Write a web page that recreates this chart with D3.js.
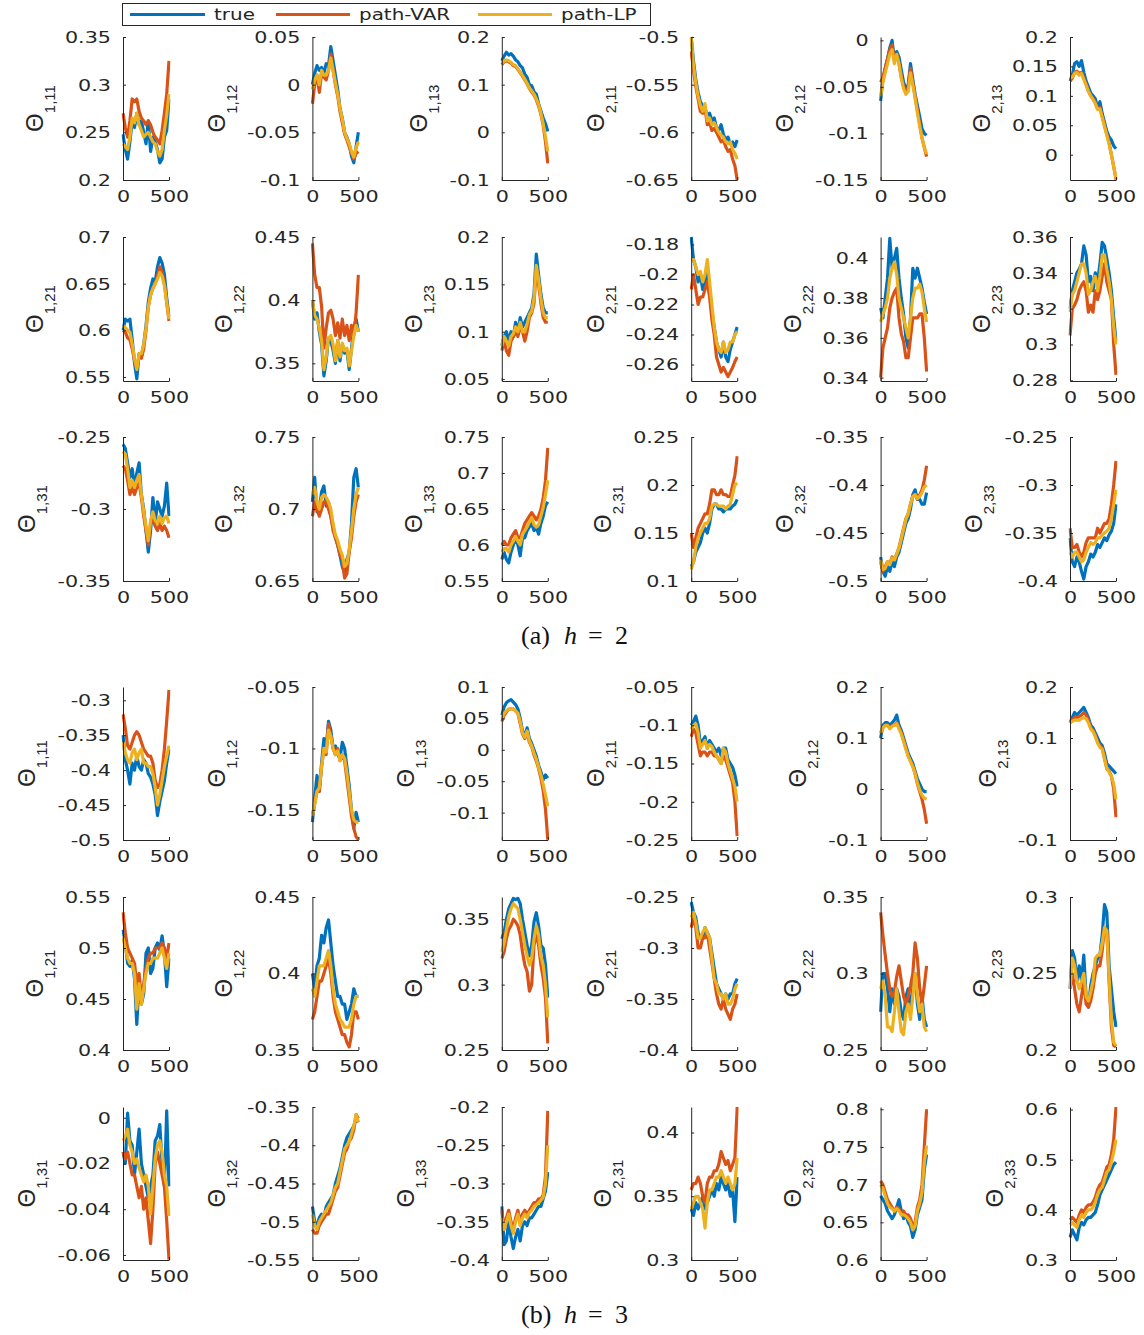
<!DOCTYPE html>
<html>
<head>
<meta charset="utf-8">
<title>theta paths h=2, h=3</title>
<style>
  body { margin: 0; background: #fff; }
</style>
</head>
<body>
<script src="https://cdn.jsdelivr.net/npm/d3@7/dist/d3.min.js"></script>
<script>
// horizon index (shared by every panel)
var xs = [0,25,50,75,100,125,150,175,200,225,250,275,300,325,350,375,400,425,450,475,500];
var seriesNames = ["true", "path-VAR", "path-LP"];
var colors = ["#0072BD", "#D95319", "#EDB120"];

// ---- (a) h = 2 ----
var h2_111_t = [0.248,0.232,0.222,0.240,0.262,0.255,0.270,0.258,0.262,0.250,0.238,0.262,0.230,0.245,0.240,0.232,0.218,0.222,0.245,0.252,0.285];
var h2_111_v = [0.270,0.255,0.245,0.262,0.285,0.282,0.285,0.272,0.265,0.262,0.258,0.262,0.258,0.250,0.245,0.242,0.238,0.252,0.270,0.290,0.325];
var h2_111_l = [0.238,0.235,0.232,0.245,0.265,0.260,0.270,0.258,0.252,0.245,0.248,0.250,0.245,0.240,0.238,0.230,0.225,0.232,0.252,0.268,0.290];
var h2_112_t = [0.000,0.012,0.020,0.015,0.018,0.012,0.022,0.020,0.040,0.025,0.010,-0.005,-0.025,-0.035,-0.050,-0.055,-0.062,-0.075,-0.082,-0.065,-0.050];
var h2_112_v = [-0.020,0.000,0.010,-0.008,0.012,0.008,0.005,0.015,0.032,0.015,0.000,-0.012,-0.028,-0.040,-0.052,-0.058,-0.065,-0.072,-0.078,-0.072,-0.070];
var h2_112_l = [-0.005,0.005,0.010,0.000,0.015,0.010,0.010,0.015,0.028,0.015,0.002,-0.010,-0.025,-0.036,-0.050,-0.056,-0.062,-0.070,-0.076,-0.066,-0.060];
var h2_113_t = [0.150,0.160,0.168,0.162,0.165,0.160,0.152,0.148,0.140,0.135,0.122,0.115,0.100,0.098,0.085,0.080,0.060,0.045,0.030,0.018,0.002];
var h2_113_v = [0.142,0.148,0.150,0.148,0.145,0.140,0.138,0.132,0.125,0.118,0.110,0.102,0.092,0.085,0.078,0.068,0.055,0.038,0.015,-0.020,-0.065];
var h2_113_l = [0.145,0.150,0.152,0.150,0.147,0.142,0.140,0.133,0.126,0.119,0.111,0.103,0.093,0.087,0.080,0.070,0.058,0.040,0.018,-0.010,-0.040];
var h2_211_t = [-0.500,-0.525,-0.545,-0.558,-0.568,-0.572,-0.575,-0.582,-0.580,-0.588,-0.585,-0.595,-0.598,-0.592,-0.602,-0.608,-0.605,-0.612,-0.610,-0.615,-0.608];
var h2_211_v = [-0.515,-0.535,-0.552,-0.565,-0.578,-0.580,-0.575,-0.592,-0.590,-0.598,-0.596,-0.600,-0.605,-0.610,-0.608,-0.615,-0.620,-0.618,-0.628,-0.635,-0.650];
var h2_211_l = [-0.500,-0.530,-0.548,-0.562,-0.572,-0.578,-0.570,-0.588,-0.585,-0.592,-0.590,-0.595,-0.600,-0.603,-0.605,-0.610,-0.612,-0.610,-0.618,-0.622,-0.628];
var h2_212_t = [-0.065,-0.042,-0.030,-0.020,-0.008,0.000,-0.022,-0.012,-0.018,-0.032,-0.045,-0.052,-0.048,-0.025,-0.042,-0.058,-0.070,-0.082,-0.095,-0.100,-0.102];
var h2_212_v = [-0.045,-0.040,-0.030,-0.020,-0.010,-0.005,-0.020,-0.015,-0.025,-0.040,-0.050,-0.055,-0.050,-0.030,-0.045,-0.060,-0.075,-0.090,-0.105,-0.115,-0.125];
var h2_212_l = [-0.060,-0.045,-0.035,-0.025,-0.015,-0.010,-0.025,-0.015,-0.025,-0.040,-0.052,-0.058,-0.055,-0.035,-0.048,-0.062,-0.078,-0.092,-0.105,-0.115,-0.122];
var h2_213_t = [0.125,0.135,0.155,0.158,0.150,0.160,0.140,0.125,0.115,0.105,0.100,0.095,0.080,0.090,0.070,0.055,0.040,0.030,0.025,0.015,0.010];
var h2_213_v = [0.125,0.130,0.140,0.142,0.138,0.140,0.130,0.120,0.108,0.100,0.095,0.088,0.078,0.080,0.065,0.050,0.035,0.020,0.000,-0.020,-0.042];
var h2_213_l = [0.130,0.132,0.138,0.140,0.135,0.138,0.128,0.118,0.108,0.100,0.094,0.087,0.077,0.078,0.063,0.048,0.033,0.018,0.000,-0.020,-0.040];

var h2_121_t = [0.600,0.612,0.610,0.612,0.590,0.565,0.548,0.575,0.572,0.585,0.605,0.630,0.645,0.655,0.652,0.668,0.678,0.672,0.660,0.635,0.615];
var h2_121_v = [0.600,0.598,0.592,0.590,0.580,0.568,0.560,0.572,0.570,0.580,0.600,0.625,0.638,0.645,0.650,0.658,0.668,0.662,0.650,0.630,0.610];
var h2_121_l = [0.605,0.603,0.600,0.598,0.585,0.570,0.558,0.575,0.575,0.585,0.602,0.625,0.638,0.645,0.650,0.655,0.662,0.658,0.648,0.630,0.612];
var h2_122_t = [0.400,0.385,0.390,0.375,0.365,0.340,0.352,0.370,0.368,0.360,0.350,0.368,0.352,0.365,0.358,0.360,0.345,0.362,0.378,0.385,0.375];
var h2_122_v = [0.445,0.420,0.410,0.410,0.395,0.362,0.378,0.390,0.392,0.385,0.372,0.382,0.370,0.385,0.372,0.380,0.368,0.380,0.372,0.390,0.420];
var h2_122_l = [0.400,0.388,0.385,0.378,0.368,0.345,0.355,0.370,0.372,0.365,0.352,0.368,0.355,0.366,0.360,0.362,0.348,0.360,0.372,0.380,0.375];
var h2_123_t = [0.085,0.095,0.100,0.090,0.100,0.095,0.110,0.100,0.115,0.105,0.110,0.115,0.120,0.125,0.140,0.182,0.160,0.140,0.125,0.120,0.120];
var h2_123_v = [0.080,0.090,0.080,0.075,0.090,0.095,0.100,0.095,0.105,0.100,0.090,0.100,0.115,0.120,0.130,0.165,0.150,0.130,0.115,0.110,0.110];
var h2_123_l = [0.085,0.095,0.090,0.085,0.095,0.098,0.105,0.100,0.110,0.100,0.100,0.108,0.118,0.122,0.135,0.170,0.155,0.135,0.120,0.115,0.115];
var h2_221_t = [-0.175,-0.190,-0.195,-0.205,-0.200,-0.210,-0.205,-0.195,-0.210,-0.225,-0.235,-0.245,-0.250,-0.255,-0.245,-0.255,-0.258,-0.250,-0.245,-0.240,-0.235];
var h2_221_v = [-0.210,-0.200,-0.210,-0.220,-0.215,-0.215,-0.210,-0.205,-0.215,-0.230,-0.240,-0.255,-0.260,-0.265,-0.262,-0.265,-0.268,-0.265,-0.262,-0.258,-0.255];
var h2_221_l = [-0.190,-0.190,-0.195,-0.200,-0.198,-0.205,-0.200,-0.190,-0.205,-0.220,-0.235,-0.245,-0.250,-0.252,-0.245,-0.252,-0.250,-0.245,-0.245,-0.240,-0.238];
var h2_222_t = [0.375,0.370,0.380,0.390,0.410,0.395,0.400,0.405,0.390,0.380,0.372,0.360,0.355,0.370,0.395,0.390,0.395,0.390,0.385,0.378,0.372];
var h2_222_v = [0.340,0.355,0.360,0.365,0.375,0.380,0.383,0.385,0.370,0.362,0.358,0.350,0.350,0.360,0.370,0.370,0.370,0.372,0.372,0.360,0.343];
var h2_222_l = [0.368,0.372,0.375,0.380,0.390,0.395,0.398,0.392,0.380,0.375,0.370,0.365,0.360,0.370,0.380,0.385,0.385,0.387,0.383,0.375,0.368];
var h2_223_t = [0.320,0.330,0.335,0.340,0.342,0.345,0.355,0.350,0.335,0.338,0.330,0.340,0.335,0.345,0.357,0.355,0.348,0.340,0.330,0.315,0.302];
var h2_223_v = [0.305,0.320,0.322,0.325,0.330,0.333,0.335,0.330,0.318,0.322,0.318,0.330,0.325,0.330,0.338,0.345,0.335,0.330,0.325,0.300,0.283];
var h2_223_l = [0.318,0.328,0.330,0.335,0.340,0.345,0.345,0.340,0.328,0.330,0.335,0.338,0.330,0.338,0.350,0.350,0.342,0.335,0.325,0.310,0.300];

var h2_131_t = [-0.255,-0.258,-0.268,-0.278,-0.272,-0.285,-0.275,-0.268,-0.290,-0.300,-0.315,-0.330,-0.315,-0.292,-0.310,-0.295,-0.300,-0.305,-0.298,-0.282,-0.305];
var h2_131_v = [-0.270,-0.272,-0.280,-0.290,-0.285,-0.290,-0.285,-0.282,-0.292,-0.305,-0.315,-0.325,-0.310,-0.308,-0.312,-0.315,-0.310,-0.315,-0.312,-0.315,-0.320];
var h2_131_l = [-0.260,-0.262,-0.272,-0.285,-0.280,-0.285,-0.280,-0.276,-0.290,-0.302,-0.312,-0.322,-0.308,-0.302,-0.308,-0.310,-0.305,-0.310,-0.306,-0.305,-0.310];
var h2_132_t = [0.705,0.722,0.698,0.700,0.712,0.716,0.702,0.705,0.695,0.688,0.680,0.675,0.668,0.660,0.655,0.665,0.670,0.690,0.722,0.728,0.715];
var h2_132_v = [0.695,0.705,0.700,0.695,0.700,0.705,0.705,0.700,0.695,0.685,0.680,0.675,0.668,0.665,0.652,0.655,0.670,0.680,0.695,0.705,0.710];
var h2_132_l = [0.710,0.715,0.705,0.700,0.708,0.710,0.708,0.705,0.700,0.690,0.682,0.678,0.672,0.668,0.660,0.662,0.672,0.685,0.700,0.710,0.715];
var h2_133_t = [0.580,0.590,0.580,0.575,0.590,0.600,0.610,0.600,0.585,0.610,0.610,0.620,0.625,0.630,0.620,0.625,0.615,0.630,0.640,0.655,0.660];
var h2_133_v = [0.600,0.605,0.600,0.600,0.610,0.615,0.620,0.610,0.610,0.620,0.630,0.635,0.640,0.645,0.640,0.635,0.640,0.650,0.665,0.690,0.735];
var h2_133_l = [0.590,0.595,0.595,0.590,0.600,0.605,0.612,0.605,0.600,0.615,0.620,0.625,0.632,0.638,0.628,0.625,0.628,0.640,0.652,0.670,0.690];
var h2_231_t = [0.115,0.120,0.130,0.135,0.140,0.150,0.155,0.150,0.160,0.175,0.180,0.180,0.175,0.175,0.172,0.175,0.175,0.175,0.178,0.180,0.185];
var h2_231_v = [0.150,0.135,0.145,0.155,0.160,0.165,0.170,0.170,0.180,0.195,0.195,0.190,0.190,0.195,0.190,0.190,0.188,0.188,0.200,0.210,0.230];
var h2_231_l = [0.112,0.120,0.135,0.145,0.150,0.155,0.160,0.160,0.165,0.178,0.180,0.180,0.178,0.178,0.178,0.175,0.178,0.180,0.190,0.200,0.202];
var h2_232_t = [-0.475,-0.490,-0.495,-0.485,-0.490,-0.480,-0.485,-0.475,-0.470,-0.460,-0.450,-0.440,-0.435,-0.425,-0.410,-0.405,-0.415,-0.415,-0.420,-0.420,-0.408];
var h2_232_v = [-0.480,-0.490,-0.485,-0.480,-0.482,-0.475,-0.478,-0.472,-0.465,-0.455,-0.445,-0.435,-0.430,-0.420,-0.412,-0.410,-0.415,-0.410,-0.405,-0.395,-0.380];
var h2_232_l = [-0.478,-0.488,-0.487,-0.480,-0.483,-0.476,-0.478,-0.472,-0.466,-0.456,-0.446,-0.436,-0.430,-0.420,-0.412,-0.410,-0.414,-0.412,-0.408,-0.402,-0.400];
var h2_233_t = [-0.355,-0.380,-0.385,-0.375,-0.380,-0.390,-0.398,-0.385,-0.380,-0.372,-0.375,-0.370,-0.362,-0.365,-0.360,-0.355,-0.358,-0.352,-0.348,-0.340,-0.320];
var h2_233_v = [-0.345,-0.365,-0.365,-0.362,-0.370,-0.375,-0.370,-0.360,-0.355,-0.355,-0.355,-0.355,-0.345,-0.350,-0.345,-0.340,-0.340,-0.335,-0.320,-0.300,-0.275];
var h2_233_l = [-0.370,-0.375,-0.370,-0.370,-0.375,-0.380,-0.378,-0.370,-0.365,-0.360,-0.362,-0.360,-0.355,-0.355,-0.352,-0.350,-0.348,-0.345,-0.335,-0.320,-0.305];

// ---- (b) h = 3 ----
var h3_111_t = [-0.350,-0.385,-0.400,-0.420,-0.390,-0.400,-0.380,-0.395,-0.400,-0.385,-0.390,-0.405,-0.410,-0.420,-0.435,-0.465,-0.445,-0.430,-0.415,-0.390,-0.370];
var h3_111_v = [-0.320,-0.340,-0.365,-0.370,-0.360,-0.350,-0.345,-0.350,-0.360,-0.370,-0.375,-0.380,-0.380,-0.390,-0.415,-0.425,-0.420,-0.400,-0.370,-0.330,-0.285];
var h3_111_l = [-0.360,-0.375,-0.385,-0.390,-0.375,-0.370,-0.385,-0.375,-0.370,-0.390,-0.390,-0.395,-0.395,-0.405,-0.425,-0.450,-0.435,-0.415,-0.395,-0.380,-0.365];
var h3_112_t = [-0.160,-0.140,-0.122,-0.135,-0.112,-0.092,-0.100,-0.078,-0.085,-0.100,-0.098,-0.105,-0.108,-0.095,-0.100,-0.115,-0.130,-0.150,-0.165,-0.152,-0.160];
var h3_112_v = [-0.155,-0.145,-0.135,-0.135,-0.115,-0.100,-0.105,-0.080,-0.090,-0.100,-0.105,-0.100,-0.110,-0.105,-0.110,-0.125,-0.140,-0.155,-0.165,-0.172,-0.174];
var h3_112_l = [-0.155,-0.145,-0.135,-0.132,-0.115,-0.100,-0.103,-0.085,-0.090,-0.100,-0.105,-0.102,-0.110,-0.105,-0.108,-0.120,-0.135,-0.150,-0.158,-0.160,-0.160];
var h3_113_t = [0.055,0.068,0.075,0.078,0.080,0.076,0.072,0.065,0.050,0.030,0.022,0.035,0.018,0.010,0.000,-0.010,-0.025,-0.035,-0.048,-0.040,-0.045];
var h3_113_v = [0.045,0.055,0.060,0.065,0.065,0.065,0.062,0.058,0.042,0.025,0.018,0.028,0.012,0.005,-0.008,-0.018,-0.030,-0.045,-0.065,-0.095,-0.143];
var h3_113_l = [0.050,0.058,0.062,0.065,0.066,0.065,0.062,0.058,0.045,0.027,0.020,0.030,0.014,0.006,-0.005,-0.015,-0.028,-0.040,-0.055,-0.072,-0.090];
var h3_211_t = [-0.100,-0.095,-0.088,-0.100,-0.125,-0.120,-0.115,-0.130,-0.120,-0.125,-0.130,-0.135,-0.130,-0.140,-0.130,-0.130,-0.145,-0.150,-0.155,-0.165,-0.180];
var h3_211_v = [-0.115,-0.105,-0.110,-0.125,-0.140,-0.135,-0.135,-0.140,-0.135,-0.135,-0.140,-0.140,-0.145,-0.150,-0.140,-0.145,-0.155,-0.165,-0.175,-0.200,-0.245];
var h3_211_l = [-0.105,-0.100,-0.098,-0.110,-0.130,-0.125,-0.120,-0.130,-0.125,-0.128,-0.135,-0.140,-0.145,-0.150,-0.130,-0.135,-0.150,-0.160,-0.170,-0.180,-0.200];
var h3_212_t = [0.100,0.125,0.130,0.130,0.125,0.130,0.135,0.145,0.125,0.115,0.100,0.085,0.070,0.060,0.050,0.035,0.020,0.010,0.000,-0.005,-0.005];
var h3_212_v = [0.110,0.120,0.125,0.125,0.120,0.125,0.125,0.130,0.120,0.110,0.095,0.080,0.065,0.055,0.045,0.030,0.010,-0.005,-0.020,-0.040,-0.068];
var h3_212_l = [0.110,0.120,0.125,0.125,0.118,0.123,0.125,0.128,0.118,0.108,0.093,0.078,0.064,0.054,0.044,0.030,0.012,-0.002,-0.012,-0.018,-0.020];
var h3_213_t = [0.130,0.140,0.150,0.145,0.150,0.155,0.160,0.150,0.140,0.125,0.120,0.110,0.100,0.090,0.085,0.070,0.050,0.045,0.040,0.035,0.030];
var h3_213_v = [0.130,0.135,0.140,0.140,0.142,0.145,0.150,0.145,0.135,0.120,0.115,0.105,0.092,0.085,0.080,0.060,0.040,0.035,0.025,0.000,-0.055];
var h3_213_l = [0.130,0.133,0.135,0.135,0.135,0.138,0.140,0.138,0.130,0.118,0.113,0.103,0.090,0.082,0.078,0.060,0.040,0.033,0.025,0.010,-0.020];

var h3_121_t = [0.518,0.505,0.485,0.482,0.488,0.470,0.425,0.468,0.445,0.455,0.495,0.500,0.475,0.480,0.500,0.505,0.498,0.512,0.495,0.462,0.490];
var h3_121_v = [0.535,0.515,0.500,0.495,0.490,0.485,0.465,0.475,0.450,0.465,0.480,0.490,0.495,0.495,0.500,0.500,0.500,0.505,0.500,0.490,0.505];
var h3_121_l = [0.510,0.500,0.490,0.485,0.485,0.475,0.440,0.465,0.445,0.460,0.475,0.485,0.485,0.490,0.490,0.490,0.495,0.500,0.490,0.480,0.495];
var h3_122_t = [0.400,0.390,0.405,0.410,0.425,0.420,0.430,0.435,0.420,0.405,0.395,0.385,0.385,0.380,0.380,0.370,0.375,0.380,0.390,0.385,0.385];
var h3_122_v = [0.370,0.375,0.385,0.395,0.395,0.400,0.405,0.410,0.400,0.385,0.375,0.370,0.365,0.360,0.360,0.355,0.352,0.360,0.375,0.375,0.370];
var h3_122_l = [0.390,0.385,0.395,0.405,0.405,0.405,0.410,0.415,0.405,0.390,0.380,0.375,0.370,0.368,0.365,0.365,0.365,0.370,0.380,0.385,0.385];
var h3_123_t = [0.335,0.340,0.350,0.358,0.362,0.366,0.365,0.366,0.362,0.350,0.340,0.330,0.322,0.330,0.348,0.355,0.345,0.330,0.328,0.315,0.290];
var h3_123_v = [0.320,0.325,0.335,0.342,0.345,0.350,0.348,0.345,0.338,0.325,0.315,0.310,0.295,0.300,0.330,0.340,0.330,0.315,0.305,0.290,0.255];
var h3_123_l = [0.325,0.332,0.342,0.352,0.358,0.362,0.360,0.358,0.350,0.340,0.330,0.322,0.315,0.320,0.335,0.345,0.338,0.322,0.315,0.300,0.275];
var h3_221_t = [-0.255,-0.265,-0.270,-0.285,-0.290,-0.290,-0.280,-0.285,-0.290,-0.305,-0.320,-0.335,-0.340,-0.345,-0.350,-0.345,-0.350,-0.345,-0.345,-0.335,-0.330];
var h3_221_v = [-0.280,-0.270,-0.280,-0.300,-0.300,-0.290,-0.290,-0.285,-0.300,-0.315,-0.330,-0.345,-0.355,-0.360,-0.350,-0.360,-0.365,-0.370,-0.360,-0.355,-0.345];
var h3_221_l = [-0.270,-0.265,-0.275,-0.290,-0.290,-0.285,-0.280,-0.285,-0.290,-0.310,-0.330,-0.335,-0.345,-0.345,-0.350,-0.345,-0.355,-0.355,-0.350,-0.340,-0.335];
var h3_222_t = [0.275,0.300,0.300,0.290,0.275,0.290,0.280,0.290,0.285,0.275,0.270,0.285,0.290,0.275,0.290,0.300,0.280,0.270,0.285,0.270,0.265];
var h3_222_v = [0.340,0.325,0.312,0.300,0.290,0.285,0.288,0.298,0.305,0.295,0.285,0.280,0.285,0.292,0.300,0.320,0.310,0.290,0.280,0.292,0.305];
var h3_222_l = [0.290,0.295,0.285,0.265,0.265,0.262,0.275,0.290,0.275,0.262,0.260,0.275,0.280,0.270,0.285,0.300,0.285,0.275,0.280,0.265,0.262];
var h3_223_t = [0.240,0.265,0.260,0.245,0.255,0.245,0.262,0.235,0.228,0.242,0.250,0.255,0.260,0.262,0.275,0.295,0.290,0.255,0.240,0.225,0.215];
var h3_223_v = [0.240,0.250,0.240,0.230,0.225,0.235,0.245,0.230,0.228,0.232,0.240,0.250,0.255,0.255,0.265,0.280,0.278,0.245,0.215,0.203,0.202];
var h3_223_l = [0.240,0.260,0.255,0.245,0.240,0.245,0.250,0.235,0.232,0.238,0.245,0.260,0.262,0.262,0.270,0.280,0.278,0.248,0.220,0.205,0.203];

var h3_131_t = [-0.015,-0.020,0.002,-0.010,-0.012,-0.025,-0.015,-0.005,-0.020,-0.025,-0.030,-0.035,-0.030,-0.025,-0.010,-0.008,-0.003,-0.020,-0.030,0.003,-0.030];
var h3_131_v = [-0.015,-0.018,-0.015,-0.020,-0.025,-0.025,-0.030,-0.035,-0.030,-0.040,-0.035,-0.045,-0.055,-0.040,-0.020,-0.015,-0.020,-0.025,-0.030,-0.045,-0.062];
var h3_131_l = [-0.010,-0.008,-0.005,-0.012,-0.015,-0.020,-0.018,-0.022,-0.025,-0.028,-0.025,-0.030,-0.042,-0.030,-0.018,-0.012,-0.010,-0.015,-0.025,-0.030,-0.043];
var h3_132_t = [-0.480,-0.500,-0.505,-0.495,-0.490,-0.495,-0.480,-0.475,-0.470,-0.465,-0.450,-0.440,-0.430,-0.415,-0.400,-0.390,-0.385,-0.380,-0.375,-0.365,-0.370];
var h3_132_v = [-0.510,-0.515,-0.515,-0.505,-0.500,-0.495,-0.490,-0.490,-0.480,-0.470,-0.460,-0.455,-0.440,-0.425,-0.410,-0.405,-0.395,-0.390,-0.380,-0.360,-0.365];
var h3_132_l = [-0.490,-0.505,-0.510,-0.500,-0.495,-0.490,-0.485,-0.480,-0.475,-0.465,-0.455,-0.450,-0.435,-0.420,-0.405,-0.400,-0.395,-0.385,-0.375,-0.360,-0.370];
var h3_133_t = [-0.330,-0.380,-0.375,-0.350,-0.370,-0.385,-0.370,-0.360,-0.375,-0.355,-0.350,-0.355,-0.345,-0.345,-0.340,-0.335,-0.330,-0.330,-0.320,-0.310,-0.285];
var h3_133_v = [-0.335,-0.360,-0.345,-0.335,-0.350,-0.360,-0.345,-0.335,-0.350,-0.340,-0.335,-0.340,-0.335,-0.330,-0.325,-0.325,-0.320,-0.320,-0.315,-0.290,-0.205];
var h3_133_l = [-0.345,-0.360,-0.350,-0.340,-0.355,-0.365,-0.350,-0.340,-0.355,-0.345,-0.340,-0.345,-0.338,-0.335,-0.330,-0.328,-0.325,-0.322,-0.318,-0.300,-0.250];
var h3_231_t = [0.340,0.335,0.345,0.340,0.345,0.350,0.340,0.345,0.350,0.355,0.350,0.360,0.355,0.365,0.360,0.355,0.360,0.350,0.355,0.330,0.365];
var h3_231_v = [0.355,0.360,0.360,0.365,0.360,0.350,0.345,0.360,0.365,0.365,0.370,0.370,0.375,0.385,0.380,0.375,0.378,0.370,0.375,0.380,0.420];
var h3_231_l = [0.340,0.345,0.350,0.350,0.345,0.340,0.325,0.345,0.355,0.355,0.360,0.365,0.365,0.370,0.365,0.360,0.365,0.360,0.355,0.360,0.380];
var h3_232_t = [0.685,0.680,0.675,0.665,0.660,0.655,0.660,0.670,0.680,0.665,0.655,0.660,0.650,0.645,0.630,0.640,0.660,0.670,0.680,0.720,0.740];
var h3_232_v = [0.705,0.700,0.690,0.680,0.675,0.670,0.665,0.670,0.668,0.660,0.665,0.660,0.660,0.655,0.645,0.650,0.670,0.680,0.700,0.750,0.800];
var h3_232_l = [0.700,0.695,0.685,0.675,0.670,0.668,0.665,0.668,0.665,0.660,0.660,0.658,0.655,0.650,0.640,0.645,0.665,0.675,0.690,0.730,0.752];
var h3_233_t = [0.345,0.360,0.350,0.340,0.365,0.375,0.370,0.380,0.385,0.385,0.390,0.395,0.410,0.430,0.440,0.450,0.460,0.470,0.480,0.490,0.495];
var h3_233_v = [0.380,0.385,0.380,0.375,0.390,0.400,0.395,0.405,0.410,0.410,0.415,0.425,0.440,0.450,0.455,0.470,0.485,0.490,0.510,0.540,0.605];
var h3_233_l = [0.370,0.375,0.370,0.365,0.380,0.390,0.385,0.395,0.400,0.400,0.405,0.415,0.430,0.440,0.445,0.460,0.475,0.480,0.495,0.515,0.540];

// panels in grid order (6 per row, 3 rows per horizon)
var panelSeries = [
  [h2_111_t,h2_111_v,h2_111_l],[h2_112_t,h2_112_v,h2_112_l],[h2_113_t,h2_113_v,h2_113_l],
  [h2_211_t,h2_211_v,h2_211_l],[h2_212_t,h2_212_v,h2_212_l],[h2_213_t,h2_213_v,h2_213_l],
  [h2_121_t,h2_121_v,h2_121_l],[h2_122_t,h2_122_v,h2_122_l],[h2_123_t,h2_123_v,h2_123_l],
  [h2_221_t,h2_221_v,h2_221_l],[h2_222_t,h2_222_v,h2_222_l],[h2_223_t,h2_223_v,h2_223_l],
  [h2_131_t,h2_131_v,h2_131_l],[h2_132_t,h2_132_v,h2_132_l],[h2_133_t,h2_133_v,h2_133_l],
  [h2_231_t,h2_231_v,h2_231_l],[h2_232_t,h2_232_v,h2_232_l],[h2_233_t,h2_233_v,h2_233_l],
  [h3_111_t,h3_111_v,h3_111_l],[h3_112_t,h3_112_v,h3_112_l],[h3_113_t,h3_113_v,h3_113_l],
  [h3_211_t,h3_211_v,h3_211_l],[h3_212_t,h3_212_v,h3_212_l],[h3_213_t,h3_213_v,h3_213_l],
  [h3_121_t,h3_121_v,h3_121_l],[h3_122_t,h3_122_v,h3_122_l],[h3_123_t,h3_123_v,h3_123_l],
  [h3_221_t,h3_221_v,h3_221_l],[h3_222_t,h3_222_v,h3_222_l],[h3_223_t,h3_223_v,h3_223_l],
  [h3_131_t,h3_131_v,h3_131_l],[h3_132_t,h3_132_v,h3_132_l],[h3_133_t,h3_133_v,h3_133_l],
  [h3_231_t,h3_231_v,h3_231_l],[h3_232_t,h3_232_v,h3_232_l],[h3_233_t,h3_233_v,h3_233_l]
];

var yLimits = [
  [0.2,0.35],[-0.1,0.05],[-0.1,0.2],[-0.65,-0.5],[-0.15,0.0036],[-0.043,0.2],
  [0.5457,0.7],[0.336,0.45],[0.048,0.2],[-0.271,-0.175],[0.3383,0.4107],[0.2796,0.36],
  [-0.35,-0.25],[0.65,0.75],[0.55,0.75],[0.1,0.25],[-0.5,-0.35],[-0.4,-0.25],
  [-0.5,-0.281],[-0.1745,-0.05],[-0.1436,0.1],[-0.25,-0.05],[-0.1,0.2],[-0.1,0.2],
  [0.4,0.55],[0.35,0.45],[0.25,0.367],[-0.4,-0.25],[0.25,0.35],[0.2,0.3],
  [-0.0622,0.0047],[-0.55,-0.35],[-0.4,-0.2],[0.3,0.42],[0.6,0.803],[0.3,0.605]
];

var yTickVals = [
  [0.2,0.25,0.3,0.35],[-0.1,-0.05,0,0.05],[-0.1,0,0.1,0.2],[-0.65,-0.6,-0.55,-0.5],[-0.15,-0.1,-0.05,0],[0,0.05,0.1,0.15,0.2],
  [0.55,0.6,0.65,0.7],[0.35,0.4,0.45],[0.05,0.1,0.15,0.2],[-0.26,-0.24,-0.22,-0.2,-0.18],[0.34,0.36,0.38,0.4],[0.28,0.3,0.32,0.34,0.36],
  [-0.35,-0.3,-0.25],[0.65,0.7,0.75],[0.55,0.6,0.65,0.7,0.75],[0.1,0.15,0.2,0.25],[-0.5,-0.45,-0.4,-0.35],[-0.4,-0.35,-0.3,-0.25],
  [-0.5,-0.45,-0.4,-0.35,-0.3],[-0.15,-0.1,-0.05],[-0.1,-0.05,0,0.05,0.1],[-0.25,-0.2,-0.15,-0.1,-0.05],[-0.1,0,0.1,0.2],[-0.1,0,0.1,0.2],
  [0.4,0.45,0.5,0.55],[0.35,0.4,0.45],[0.25,0.3,0.35],[-0.4,-0.35,-0.3,-0.25],[0.25,0.3,0.35],[0.2,0.25,0.3],
  [-0.06,-0.04,-0.02,0],[-0.55,-0.5,-0.45,-0.4,-0.35],[-0.4,-0.35,-0.3,-0.25,-0.2],[0.3,0.35,0.4],[0.6,0.65,0.7,0.75,0.8],[0.3,0.4,0.5,0.6]
];
var xTickVals = [0, 500];
var captions = [["(a)", "h", "2"], ["(b)", "h", "3"]];

// layout
var W = 1144, H = 1335;
var colX = [123, 312.4, 501.8, 691.2, 880.6, 1070];
var plotW = 46;
var rowTop = [37, 237, 437, 687, 897, 1107];
var rowBottom = [180, 381, 581, 840, 1050, 1260];
var axisColor = "#262626";
var tickFont = "'DejaVu Sans', sans-serif";
var tickFontSize = 15;
var stretch = 1.38;   // the figure's tick font is very wide
var lineW = 3.2;

var svg = d3.select("body").append("svg")
  .attr("width", W).attr("height", H)
  .style("background", "#fff");

function fmt(d) { return String(+d.toFixed(3)); }

function subscript(i) {
  var r = Math.floor(i / 6) % 3 + 1, c = i % 6;
  var lag = c < 3 ? 1 : 2;
  return lag + "," + r + (c % 3 + 1);
}

panelSeries.forEach(function(series, i) {
  var r = Math.floor(i / 6), c = i % 6;
  var ph = rowBottom[r] - rowTop[r];
  var g = svg.append("g").attr("transform", "translate(" + colX[c] + "," + rowTop[r] + ")");

  var x = d3.scaleLinear().domain([0, 500]).range([0, plotW]);
  var y = d3.scaleLinear().domain(yLimits[i]).range([ph, 0]);

  g.append("clipPath").attr("id", "clip" + i)
    .append("rect").attr("x", -1.5).attr("y", -1.5).attr("width", plotW + 3).attr("height", ph + 3);

  var line = d3.line()
    .x(function(d, j) { return x(xs[j]); })
    .y(function(d) { return y(d); });

  series.forEach(function(s, k) {
    g.append("path")
      .attr("d", line(s))
      .attr("clip-path", "url(#clip" + i + ")")
      .attr("fill", "none")
      .attr("stroke", colors[k])
      .attr("stroke-width", lineW)
      .attr("stroke-linejoin", "round");
  });

  var ya = g.append("g")
    .call(d3.axisLeft(y).tickValues(yTickVals[i]).tickFormat(fmt).tickSizeInner(-3).tickSizeOuter(0));
  var xa = g.append("g").attr("transform", "translate(0," + ph + ")")
    .call(d3.axisBottom(x).tickValues(xTickVals).tickFormat(fmt).tickSizeInner(-3).tickSizeOuter(0));

  [ya, xa].forEach(function(a) {
    a.select(".domain").attr("stroke", axisColor);
    a.selectAll(".tick line").attr("stroke", axisColor);
    a.selectAll(".tick text")
      .attr("fill", axisColor)
      .style("font-family", tickFont)
      .style("font-size", tickFontSize + "px")
      .attr("transform", "scale(" + stretch + ",1)");
  });
  ya.selectAll(".tick text").attr("x", -12 / stretch).attr("dy", "0.36em");
  xa.selectAll(".tick text").attr("y", 22.5).attr("dy", 0);

  var maxW = 0;
  ya.selectAll(".tick text").each(function() {
    maxW = Math.max(maxW, this.getComputedTextLength() * stretch);
  });
  var lx = -12 - maxW - 10 - 12;
  var lab = g.append("text")
    .attr("transform", "translate(" + lx + "," + (ph / 2) + ") rotate(-90)")
    .attr("text-anchor", "middle")
    .attr("fill", axisColor)
    .style("font-family", "'Liberation Sans', Arial, sans-serif");
  lab.append("tspan").style("font-size", "24px").text("\u0398");
  lab.append("tspan").style("font-size", "15px").attr("dy", 12).text(subscript(i));
});

// legend
var leg = svg.append("g");
leg.append("rect").attr("x", 122.5).attr("y", 3.5).attr("width", 528).attr("height", 22)
  .attr("fill", "#fff").attr("stroke", axisColor).attr("stroke-width", 1);
var legLine = [[130, 205], [276, 350], [478, 552]];
seriesNames.forEach(function(name, k) {
  leg.append("line")
    .attr("x1", legLine[k][0]).attr("x2", legLine[k][1])
    .attr("y1", 14.5).attr("y2", 14.5)
    .attr("stroke", colors[k]).attr("stroke-width", lineW);
  leg.append("text")
    .attr("transform", "translate(" + (legLine[k][1] + 9) + ",20) scale(1.33,1)")
    .attr("fill", axisColor)
    .style("font-family", tickFont)
    .style("font-size", "15px")
    .text(name);
});

// sub-captions
var capY = [644, 1323];
captions.forEach(function(cp, k) {
  var t = svg.append("text")
    .attr("y", capY[k])
    .attr("fill", "#111")
    .style("font-family", "'Liberation Serif', 'Times New Roman', serif")
    .style("font-size", "26px");
  t.append("tspan").attr("x", 521).text(cp[0]);
  t.append("tspan").attr("x", 564).style("font-style", "italic").text(cp[1]);
  t.append("tspan").attr("x", 588).text("=");
  t.append("tspan").attr("x", 615).text(cp[2]);
});
</script>
</body>
</html>
